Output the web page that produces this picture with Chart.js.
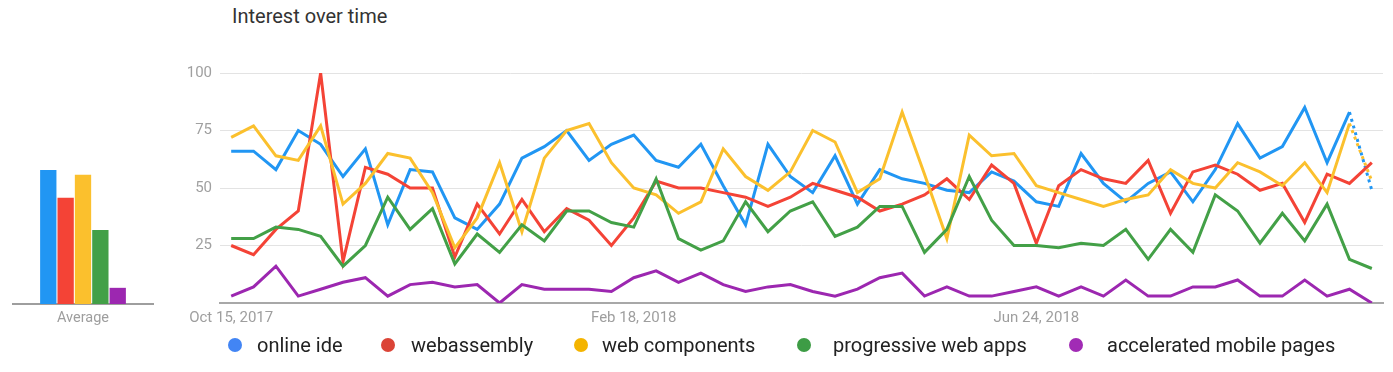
<!DOCTYPE html>
<html>
<head>
<meta charset="utf-8">
<script src="https://cdn.jsdelivr.net/npm/chart.js@4.4.1/dist/chart.umd.min.js"></script>
<style>
  html, body { margin: 0; padding: 0; background: #fff; }
  body { width: 1393px; height: 372px; position: relative; overflow: hidden; font-family: Roboto, "Noto Sans", sans-serif; }
  #title { position: absolute; left: 232px; top: 4px; font-size: 20px; color: #333; white-space: nowrap; }
  #barWrap { position: absolute; left: 0; top: 60px; width: 165px; height: 270px; }
  #lineWrap { position: absolute; left: 160px; top: 56px; width: 1233px; height: 274px; }
  .lg { position: absolute; top: 333px; height: 24px; line-height: 24px; font-size: 20px; color: #222; white-space: nowrap; }
  .dot { position: absolute; top: 338px; width: 14px; height: 14px; border-radius: 50%; }
</style>
</head>
<body>
<div id="title">Interest over time</div>
<div id="barWrap"><canvas id="bar"></canvas></div>
<div id="lineWrap"><canvas id="line"></canvas></div>
<div id="legend"></div>
<script>
// ---------- data ----------
const categories = [
  'Oct 15, 2017','Oct 22, 2017','Oct 29, 2017','Nov 5, 2017','Nov 12, 2017','Nov 19, 2017','Nov 26, 2017',
  'Dec 3, 2017','Dec 10, 2017','Dec 17, 2017','Dec 24, 2017','Dec 31, 2017',
  'Jan 7, 2018','Jan 14, 2018','Jan 21, 2018','Jan 28, 2018','Feb 4, 2018','Feb 11, 2018','Feb 18, 2018',
  'Feb 25, 2018','Mar 4, 2018','Mar 11, 2018','Mar 18, 2018','Mar 25, 2018',
  'Apr 1, 2018','Apr 8, 2018','Apr 15, 2018','Apr 22, 2018','Apr 29, 2018',
  'May 6, 2018','May 13, 2018','May 20, 2018','May 27, 2018',
  'Jun 3, 2018','Jun 10, 2018','Jun 17, 2018','Jun 24, 2018',
  'Jul 1, 2018','Jul 8, 2018','Jul 15, 2018','Jul 22, 2018','Jul 29, 2018',
  'Aug 5, 2018','Aug 12, 2018','Aug 19, 2018','Aug 26, 2018',
  'Sep 2, 2018','Sep 9, 2018','Sep 16, 2018','Sep 23, 2018','Sep 30, 2018','Oct 7, 2018'
];
const tickLabels = ['Oct 15, 2017', 'Feb 18, 2018', 'Jun 24, 2018'];
const yTicks = [25, 50, 75, 100];
const seriesNames = ['online ide', 'webassembly', 'web components', 'progressive web apps', 'accelerated mobile pages'];

const onlineIde = [66,66,58,75,69,55,67,34,58,57,37,32,43,63,68,75,62,69,73,62,59,69,51,34,69,55,48,64,43,58,54,52,49,48,57,53,44,42,65,52,44,52,57,44,58,78,63,68,85,61,83,49];
const webassembly = [25,21,32,40,100,18,59,56,50,50,20,43,30,45,31,41,36,25,37,53,50,50,48,46,42,46,52,49,46,40,43,47,54,45,60,52,26,51,58,54,52,62,39,57,60,56,49,52,35,56,52,61];
const webComponents = [72,77,64,62,77,43,52,65,63,48,24,37,61,31,63,75,78,61,50,47,39,44,67,55,49,57,75,70,48,54,83,56,28,73,64,65,51,48,45,42,45,47,58,52,50,61,57,51,61,48,78,53];
const progressiveWebApps = [28,28,33,32,29,16,25,46,32,41,17,30,22,34,27,40,40,35,33,54,28,23,27,44,31,40,44,29,33,42,42,22,32,55,36,25,25,24,26,25,32,19,32,22,47,40,26,39,27,43,19,15];
const acceleratedMobilePages = [3,7,16,3,6,9,11,3,8,9,7,8,0,8,6,6,6,5,11,14,9,13,8,5,7,8,5,3,6,11,13,3,7,3,3,5,7,3,7,3,10,3,3,7,7,10,3,3,10,3,6,0];
const averages = [58, 46, 56, 32, 7];
const partialFromIndex = 50; // last segment is partial data

// ---------- styles ----------
const lineColors = ['#2196f3', '#f44336', '#fbc02d', '#43a047', '#9c27b0'];
const dotColors = ['#4285f4', '#db4437', '#f4b400', '#3d9c45', '#a12bb5'];
const dashedSeries = [true, false, true, false, false];
const seriesData = [onlineIde, webassembly, webComponents, progressiveWebApps, acceleratedMobilePages];

// ---------- legend (HTML) ----------
const legendPos = [[235, 257], [388, 411], [581, 602], [804, 833], [1076, 1107]];
const legend = document.getElementById('legend');
seriesNames.forEach((name, i) => {
  const d = document.createElement('div');
  d.className = 'dot';
  d.style.left = (legendPos[i][0] - 7) + 'px';
  d.style.background = dotColors[i];
  legend.appendChild(d);
  const t = document.createElement('div');
  t.className = 'lg';
  t.style.left = legendPos[i][1] + 'px';
  t.textContent = name;
  legend.appendChild(t);
});

Chart.defaults.font.family = 'Roboto, "Noto Sans", sans-serif';
Chart.defaults.animation = false;

// ---------- bar chart (Average) ----------
new Chart(document.getElementById('bar'), {
  type: 'bar',
  data: {
    labels: ['Average'],
    datasets: seriesNames.map((n, i) => ({
      label: n,
      data: [averages[i]],
      backgroundColor: lineColors[i],
      borderWidth: 0,
      categoryPercentage: 0.62,
      barPercentage: 0.94
    }))
  },
  options: {
    responsive: true,
    maintainAspectRatio: false,
    layout: { padding: { left: 13, right: 12, top: 13, bottom: 0 } },
    plugins: { legend: { display: false }, tooltip: { enabled: false } },
    scales: {
      y: { display: false, min: 0, max: 100 },
      x: {
        grid: { display: false },
        border: { display: true, color: '#9e9e9e', width: 2 },
        ticks: { color: '#9e9e9e', font: { size: 14.5 }, padding: -2 },
        afterFit: s => { s.height = 26; }
      }
    }
  }
});

// ---------- line chart ----------
new Chart(document.getElementById('line'), {
  type: 'line',
  data: {
    labels: categories,
    datasets: seriesNames.map((n, i) => ({
      label: n,
      data: seriesData[i],
      borderColor: lineColors[i],
      backgroundColor: lineColors[i],
      borderWidth: 3,
      pointRadius: 0,
      tension: 0,
      fill: false,
      order: 4 - i,
      borderJoinStyle: 'miter',
      segment: {
        borderDash: ctx => (dashedSeries[i] && ctx.p0DataIndex >= partialFromIndex) ? [3, 4] : undefined
      }
    }))
  },
  options: {
    responsive: true,
    maintainAspectRatio: false,
    layout: { padding: { left: 0, right: 10, top: 9, bottom: 0 } },
    plugins: { legend: { display: false }, tooltip: { enabled: false } },
    scales: {
      x: {
        type: 'category',
        offset: true,
        grid: { display: false },
        border: { display: true, color: '#a8a8a8', width: 2 },
        ticks: {
          autoSkip: false,
          maxRotation: 0,
          color: '#9e9e9e',
          font: { size: 15 },
          padding: -2,
          callback: function (v, idx) {
            const l = this.getLabelForValue(v);
            return tickLabels.includes(l) ? l : '';
          }
        },
        afterFit: s => { s.height = 27; }
      },
      y: {
        min: 0,
        max: 100,
        afterBuildTicks: s => { s.ticks = [0].concat(yTicks).map(v => ({ value: v })); },
        grid: { color: '#e3e3e3', lineWidth: 1, drawTicks: false },
        border: { display: false },
        ticks: {
          color: '#a0a0a0',
          font: { size: 15 },
          padding: 8,
          callback: v => (v === 0 ? '' : String(v))
        },
        afterFit: s => { s.width = 60; }
      }
    }
  }
});
</script>
</body>
</html>
